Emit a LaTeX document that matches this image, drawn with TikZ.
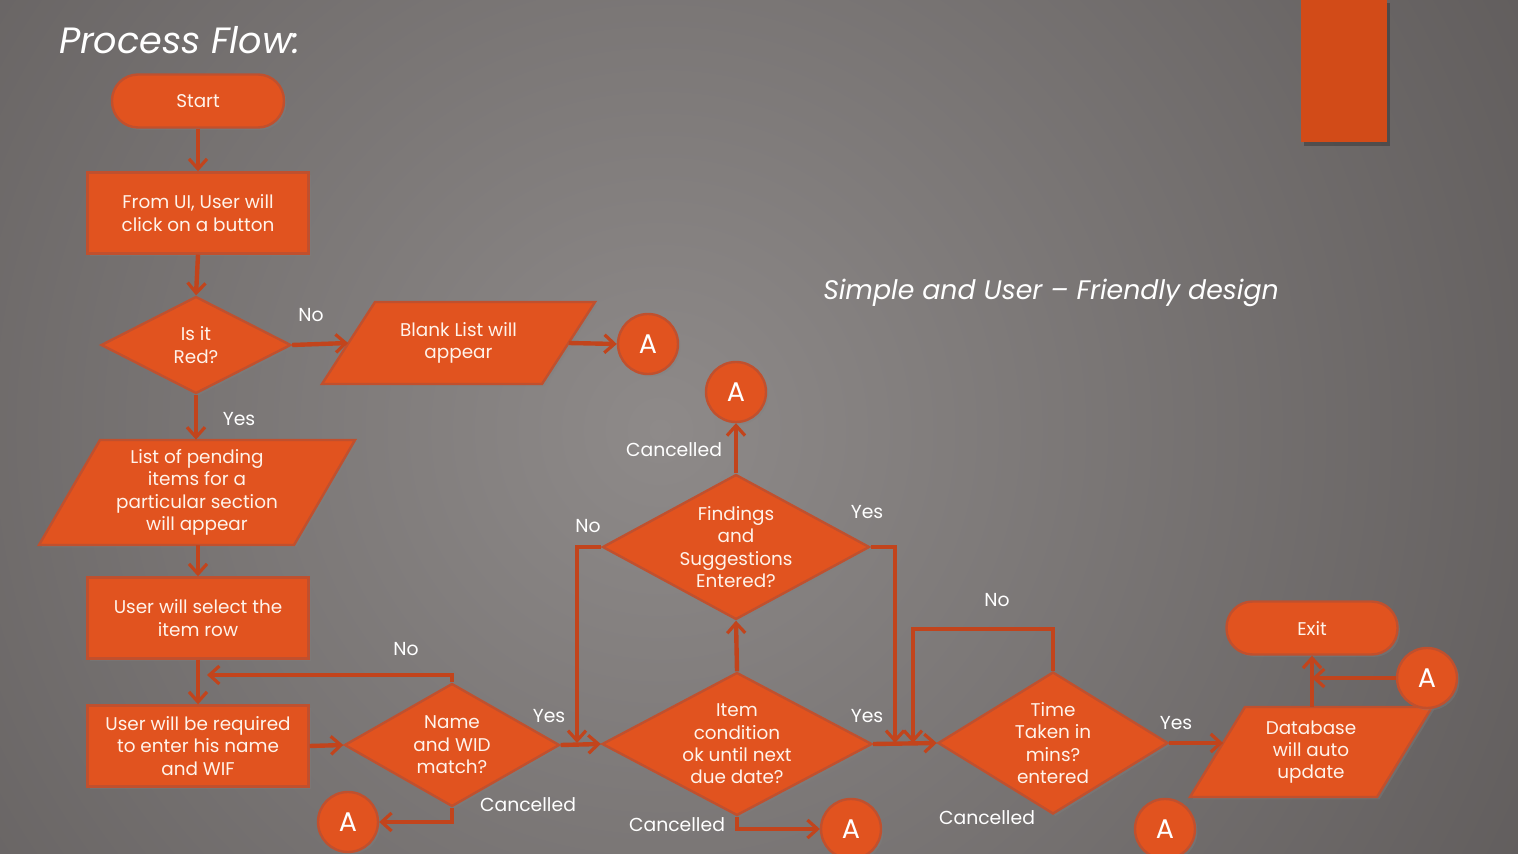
\documentclass[tikz,border=0pt]{standalone}
\usepackage{fontspec}
\setmainfont{Poppins}
\usetikzlibrary{shapes.geometric,arrows.meta,shadows}
\definecolor{bgin}{HTML}{8E8A89}
\definecolor{bgout}{HTML}{474343}
\definecolor{orng}{HTML}{E1531F}
\definecolor{orngdk}{HTML}{C0502E}
\definecolor{arrc}{HTML}{C2441C}
\definecolor{cream}{HTML}{FFF3EA}
\definecolor{bar}{HTML}{D24B18}
\begin{document}
\begin{tikzpicture}[x=0.5pt,y=-0.5pt,
  shp/.style={fill=orng, draw=orngdk, line width=1.2pt,
    drop shadow={opacity=0.35,shadow xshift=1.2pt,shadow yshift=-1.2pt}},
  proc/.style={shp, rectangle, minimum width=110.5pt, minimum height=40.5pt,
    text=cream, align=center, font=\fontsize{9.2}{11.2}\selectfont},
  term/.style={shp, rectangle, rounded corners=13pt, minimum width=86pt, minimum height=26.5pt,
    text=cream, font=\fontsize{9.2}{11.2}\selectfont},
  dec/.style={shp, diamond, inner sep=0pt},
  iobox/.style={rectangle, inner sep=0pt},
  conn/.style={shp, circle, minimum size=30pt, inner sep=0pt, text=white,
    font=\fontsize{13.5}{13.5}\selectfont},
  txt/.style={text=cream, align=center, font=\fontsize{9.2}{11.2}\selectfont},
  lbl/.style={text=white, font=\fontsize{9.4}{11}\selectfont},
  arr/.style={draw=arrc, line width=2.2pt, -{Straight Barb[length=5pt,width=9pt,line width=1.6pt]}}
]
\useasboundingbox (0,0) rectangle (1518,854);
\begin{scope}
\clip (0,0) rectangle (1518,854);
\shade[inner color=bgin, outer color=bgout] (660,430) circle (1550);
\end{scope}
\fill[black,opacity=0.25] (1304,3) rectangle (1390,146);
\fill[bar] (1301,0) rectangle (1387,142);

\node[text=white, anchor=west, font=\fontsize{18.3}{20}\selectfont\itshape] (title) at (52,40) {Process Flow:};
\node[text=white, font=\fontsize{13.4}{15}\selectfont\itshape] (sub) at (1051,293) {Simple and User – Friendly design};

% parallelogram outlines
\path[shp] (322,384) -- (375,302) -- (595,302) -- (542,384) -- cycle;
\path[shp] (39,545) -- (100,440) -- (355,440) -- (294,545) -- cycle;
\path[shp] (1190,797) -- (1245,707) -- (1432,707) -- (1377,797) -- cycle;

% shapes
\node[term] (start) at (198,101) {Start};
\node[proc] (ui) at (198,213) {From UI, User will\\click on a button};
\node[dec, minimum width=95pt, minimum height=48.5pt] (red) at (196,345) {};
\node[txt] (redt) at (red) {Is it\\Red?};
\node[iobox, minimum width=110pt, minimum height=41pt] (blank) at (458.5,343) {};
\node[txt] (blankt) at (blank) {Blank List will\\appear};
\node[conn] (a1) at (648,344) {A};
\node[iobox, minimum width=127.5pt, minimum height=52.5pt] (list) at (197,492.5) {};
\node[txt] (listt) at (list) {List of pending\\items for a\\particular section\\will appear};
\node[proc] (sel) at (198,618) {User will select the\\item row};
\node[proc] (enter) at (198,746) {User will be required\\to enter his name\\and WIF};
\node[dec, minimum width=107.5pt, minimum height=61.5pt] (name) at (452,745) {};
\node[txt] (namet) at (name) {Name\\and WID\\match?};
\node[conn] (a2) at (348,822) {A};
\node[dec, minimum width=135pt, minimum height=71.5pt] (item) at (737,744) {};
\node[txt] (itemt) at (item) {Item\\condition\\ok until next\\due date?};
\node[dec, minimum width=133.5pt, minimum height=72.5pt] (find) at (736,547) {};
\node[txt] (findt) at (find) {Findings\\and\\Suggestions\\Entered?};
\node[conn] (a3) at (736,392) {A};
\node[conn] (a4) at (851,829) {A};
\node[dec, minimum width=115pt, minimum height=71pt] (time) at (1053,743) {};
\node[txt] (timet) at (time) {Time\\Taken in\\mins?\\entered};
\node[conn] (a5) at (1165,829) {A};
\node[iobox, minimum width=93.5pt, minimum height=45pt] (db) at (1311,752) {};
\node[txt] (dbt) at (db) {Database\\will auto\\update};
\node[term, minimum width=85.5pt] (exit) at (1312,628) {Exit};
\node[conn] (a6) at (1427,678) {A};

% helper coordinates
\coordinate (nb) at (207,675);
\coordinate (fn) at (577,743);
\coordinate (fy) at (895,743);
\coordinate (tn1) at (913,629);
\coordinate (tn2) at (913,743);

% connectors
\draw[arr] (start.south) -- (ui.north);
\draw[arr] (ui.south) -- (red.north);
\draw[arr] (red.east) -- (blank.west);
\draw[arr] (blank.east) -- (a1.west);
\draw[arr] (red.south) -- (red.south |- list.north);
\draw[arr] (sel.north |- list.south) -- (sel.north);
\draw[arr] (sel.south) -- (enter.north);
\draw[arr] (enter.east) -- (name.west);
\draw[arr] (name.north) |- (nb);
\draw[arr] (name.south) |- (a2.east);
\draw[arr] (name.east) -- (item.west);
\draw[arr] (item.north) -- (find.south);
\draw[arr] (find.north) -- (a3.south);
\draw[arr] (find.west) -| (fn);
\draw[arr] (find.east) -| (fy);
\draw[arr] (item.east) -- (time.west);
\draw[arr] (item.south) |- (a4.west);
\draw[arr] (time.north) |- (tn1) -- (tn2);
\draw[arr] (time.east) -- ([xshift=3pt]time.east -| db.west);
\draw[arr] (db.north -| exit.south) -- (exit.south);
\draw[arr] (a6.west) -- (a6.west -| exit.south);

% labels
\node[lbl] (l1) at (311,315) {No};
\node[lbl] (l2) at (239,419) {Yes};
\node[lbl] (l3) at (406,649) {No};
\node[lbl] (l4) at (549,716) {Yes};
\node[lbl] (l5) at (528,805) {Cancelled};
\node[lbl] (l6) at (674,450) {Cancelled};
\node[lbl] (l7) at (588,526) {No};
\node[lbl] (l8) at (867,512) {Yes};
\node[lbl] (l9) at (867,716) {Yes};
\node[lbl] (l10) at (677,825) {Cancelled};
\node[lbl] (l11) at (997,600) {No};
\node[lbl] (l12) at (987,818) {Cancelled};
\node[lbl] (l13) at (1176,723) {Yes};
\end{tikzpicture}
\end{document}
